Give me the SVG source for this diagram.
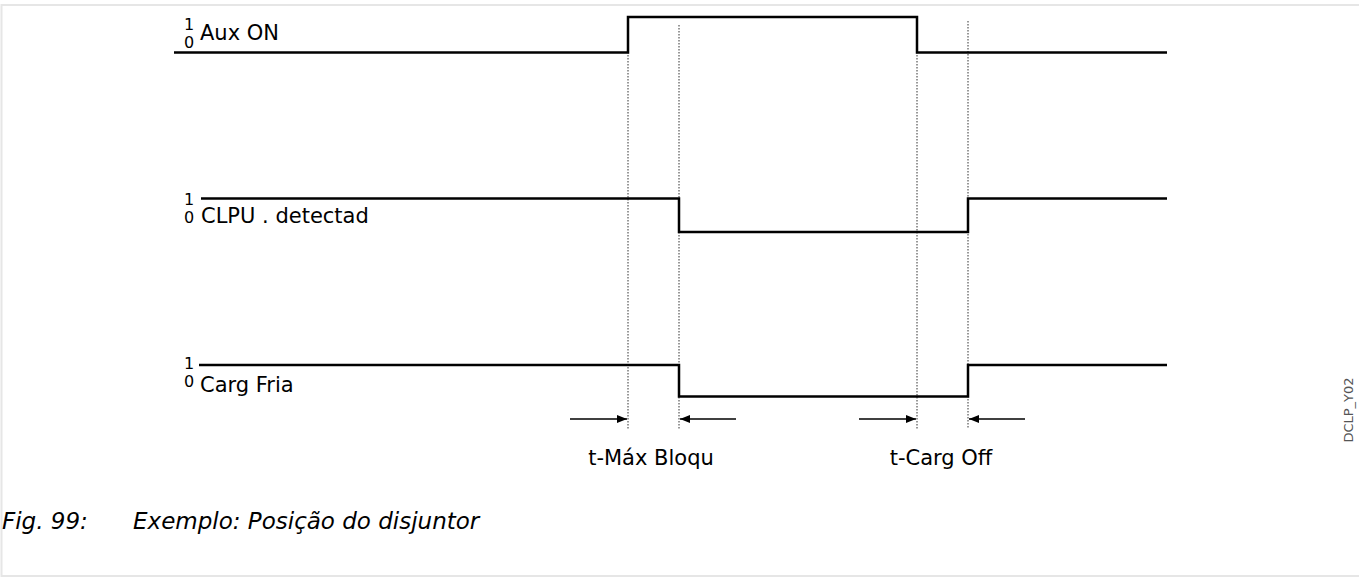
<svg xmlns="http://www.w3.org/2000/svg" width="1359" height="577" viewBox="0 0 1359 577">
<defs>
<style>
.sig{fill:none;stroke:#000;stroke-width:2.5;stroke-linejoin:miter}
.dot{fill:none;stroke:#333;stroke-width:1;stroke-dasharray:1.5,1.5}
.arr{fill:none;stroke:#000;stroke-width:1.3}
.lbl{font-family:"DejaVu Sans",sans-serif;font-size:21px;fill:#000}
.dig{font-family:"DejaVu Sans",sans-serif;font-size:16px;fill:#000}
.cap{font-family:"DejaVu Sans",sans-serif;font-style:italic;font-size:23px;fill:#000}
.frame{fill:none;stroke:#e6e6e6;stroke-width:2}
</style>
<marker id="ah" viewBox="0 0 10 8" refX="10" refY="4" markerWidth="10" markerHeight="8" markerUnits="userSpaceOnUse" orient="auto">
<path d="M0,0 L10,4 L0,8 Z" fill="#000"/>
</marker>
</defs>
<rect width="1359" height="577" fill="#fff"/>
<path class="frame" d="M1370,5 H1.5 V576 H1370"/>
<g id="connectors">
<line class="dot" x1="628" y1="52" x2="628" y2="429"/>
<line class="dot" x1="679" y1="25" x2="679" y2="429"/>
<line class="dot" x1="917" y1="52" x2="917" y2="429"/>
<line class="dot" x1="968" y1="21" x2="968" y2="429"/>
<line class="arr" x1="570" y1="419" x2="627" y2="419" marker-end="url(#ah)"/>
<line class="arr" x1="736" y1="419" x2="680" y2="419" marker-end="url(#ah)"/>
<line class="arr" x1="859" y1="419" x2="916" y2="419" marker-end="url(#ah)"/>
<line class="arr" x1="1025" y1="419" x2="969" y2="419" marker-end="url(#ah)"/>
</g>
<g id="aux-on">
<path class="sig" d="M174,52.5 H628 V17 H917 V52.5 H1167"/>
<text class="dig" x="184" y="30">1</text>
<text class="dig" x="184" y="48">0</text>
<text class="lbl" x="200" y="40">Aux ON</text>
</g>
<g id="clpu-detectad">
<path class="sig" d="M201,198.5 H679 V232 H968 V198.5 H1167"/>
<text class="dig" x="184" y="205">1</text>
<text class="dig" x="184" y="223">0</text>
<text class="lbl" x="201" y="223">CLPU . detectad</text>
</g>
<g id="carg-fria">
<path class="sig" d="M199,365 H679 V396.5 H968 V365 H1167"/>
<text class="dig" x="184" y="369">1</text>
<text class="dig" x="184" y="387">0</text>
<text class="lbl" x="200" y="392">Carg Fria</text>
</g>
<g id="t-max-bloqu">
<text class="lbl" x="651" y="465" text-anchor="middle">t-Máx Bloqu</text>
</g>
<g id="t-carg-off">
<text class="lbl" x="941" y="465" text-anchor="middle">t-Carg Off</text>
</g>
<text font-family="DejaVu Sans,sans-serif" font-size="13" fill="#555" text-anchor="middle" transform="translate(1353,410) rotate(-90)">DCLP_Y02</text>
<text class="cap" x="2" y="529">Fig. 99:</text>
<text class="cap" x="133" y="529">Exemplo: Posição do disjuntor</text>
</svg>
